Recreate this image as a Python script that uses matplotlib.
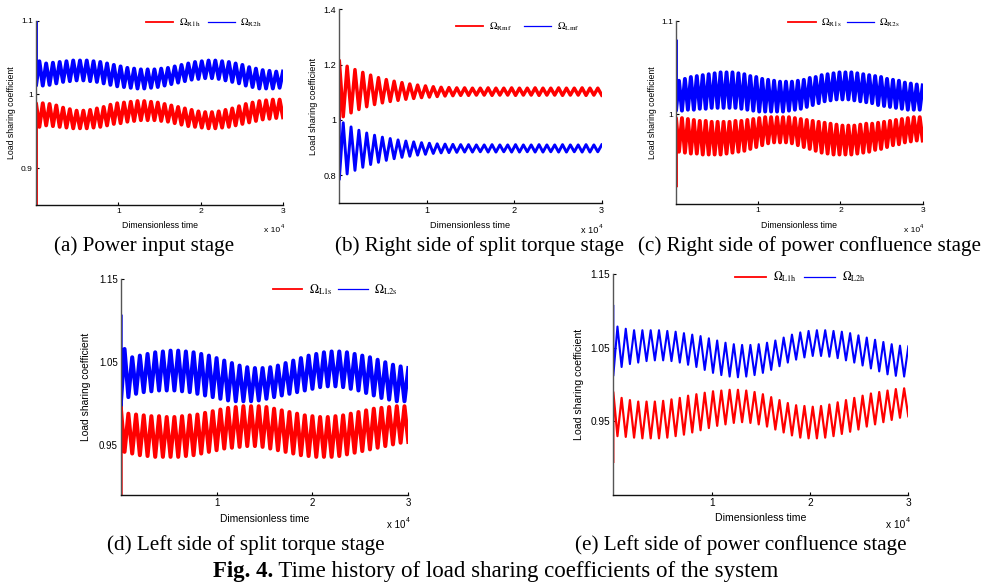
import numpy as np
import matplotlib
matplotlib.use("Agg")
import matplotlib.pyplot as plt
from matplotlib.lines import Line2D

plt.rcParams['mathtext.fontset'] = 'stix'
plt.rcParams['font.family'] = ['Liberation Sans', 'DejaVu Sans']

# ---------------- data (per-cycle peaks / troughs) ----------------
T_END = 3e4

# (a) Power input stage
a_red_init, a_blue_init = 0.85, 1.10
a_red_hi = [0.988,0.988,0.987,0.985,0.982,0.980,0.978,0.978,0.979,0.981,0.983,0.986,0.988,0.989,0.990,0.991,0.991,0.990,0.989,0.987,0.985,0.983,0.981,0.979,0.977,0.976,0.976,0.977,0.979,0.981,0.984,0.987,0.989,0.991,0.992,0.993,0.993]
a_red_lo = [0.956,0.958,0.957,0.956,0.955,0.954,0.954,0.954,0.955,0.956,0.958,0.960,0.961,0.963,0.964,0.965,0.965,0.965,0.964,0.963,0.961,0.959,0.957,0.956,0.955,0.954,0.954,0.955,0.956,0.958,0.960,0.962,0.964,0.966,0.967,0.968,0.969]
a_blue_hi = [1.045,1.042,1.043,1.044,1.045,1.046,1.046,1.046,1.045,1.044,1.042,1.040,1.038,1.036,1.035,1.034,1.034,1.034,1.035,1.036,1.038,1.040,1.042,1.044,1.045,1.046,1.046,1.045,1.044,1.042,1.040,1.037,1.035,1.033,1.032,1.031,1.031]
a_blue_lo = [1.012,1.012,1.013,1.015,1.017,1.018,1.019,1.019,1.018,1.017,1.015,1.013,1.011,1.010,1.009,1.008,1.008,1.009,1.010,1.012,1.014,1.016,1.018,1.020,1.021,1.022,1.022,1.021,1.019,1.017,1.015,1.012,1.010,1.008,1.008,1.008,1.009]

# (b) Right side of split torque stage
b_red_init, b_blue_init = 1.0, 1.0
b_red_hi = [1.215,1.194,1.182,1.172,1.162,1.153,1.146,1.140,1.135,1.130,1.126,1.123,1.120,1.118,1.117,1.116,1.116,1.115,1.115,1.116,1.115,1.115,1.116,1.115,1.115,1.116,1.115,1.115,1.116,1.115,1.115,1.116,1.115,1.115]
b_red_lo = [1.012,1.026,1.038,1.048,1.056,1.062,1.067,1.071,1.075,1.078,1.081,1.083,1.085,1.087,1.088,1.089,1.089,1.090,1.090,1.089,1.090,1.090,1.089,1.090,1.090,1.089,1.090,1.090,1.089,1.090,1.090,1.089,1.090,1.090]
b_blue_lo = [0.785,0.805,0.818,0.829,0.839,0.847,0.854,0.860,0.865,0.869,0.873,0.876,0.879,0.881,0.882,0.883,0.884,0.884,0.885,0.884,0.884,0.885,0.884,0.884,0.885,0.884,0.884,0.885,0.884,0.884,0.885,0.884,0.884,0.885]
b_blue_hi = [0.990,0.975,0.963,0.953,0.945,0.938,0.933,0.928,0.924,0.921,0.918,0.916,0.914,0.913,0.912,0.911,0.911,0.910,0.910,0.911,0.910,0.910,0.911,0.910,0.910,0.911,0.910,0.910,0.911,0.910,0.910,0.911,0.910,0.910]

# (c) Right side of power confluence stage
c_red_init, c_blue_init = 0.924, 1.078
c_red_hi = [0.996,0.996,0.995,0.994,0.993,0.993,0.992,0.992,0.992,0.992,0.993,0.993,0.994,0.995,0.996,0.997,0.997,0.997,0.997,0.997,0.996,0.995,0.994,0.993,0.992,0.991,0.990,0.989,0.988,0.988,0.988,0.989,0.990,0.990,0.991,0.992,0.993,0.994,0.995,0.996,0.997,0.997]
c_red_lo = [0.960,0.959,0.958,0.958,0.957,0.957,0.957,0.957,0.958,0.959,0.960,0.961,0.963,0.965,0.967,0.969,0.970,0.970,0.970,0.969,0.967,0.965,0.963,0.961,0.959,0.958,0.957,0.957,0.957,0.957,0.958,0.959,0.960,0.962,0.963,0.965,0.967,0.968,0.970,0.971,0.972,0.972]
c_blue_hi = [1.036,1.038,1.040,1.041,1.042,1.043,1.044,1.045,1.045,1.045,1.044,1.043,1.041,1.040,1.038,1.037,1.036,1.035,1.035,1.035,1.036,1.037,1.039,1.040,1.042,1.043,1.044,1.045,1.045,1.045,1.044,1.043,1.042,1.041,1.040,1.038,1.037,1.036,1.034,1.033,1.032,1.031]
c_blue_lo = [1.004,1.004,1.005,1.005,1.006,1.006,1.007,1.007,1.007,1.007,1.007,1.006,1.005,1.004,1.003,1.003,1.003,1.003,1.003,1.004,1.005,1.006,1.008,1.010,1.012,1.014,1.015,1.016,1.016,1.016,1.015,1.014,1.013,1.012,1.010,1.009,1.008,1.007,1.006,1.005,1.005,1.005]

# (d) Left side of split torque stage
d_red_init, d_blue_init = 0.89, 1.105
d_red_hi = [0.997,0.988,0.987,0.986,0.985,0.985,0.984,0.984,0.985,0.986,0.987,0.989,0.991,0.993,0.995,0.996,0.997,0.997,0.997,0.996,0.994,0.992,0.990,0.988,0.986,0.985,0.984,0.984,0.985,0.986,0.988,0.990,0.992,0.994,0.995,0.996,0.997,0.997]
d_red_lo = [0.942,0.940,0.938,0.937,0.936,0.936,0.936,0.936,0.937,0.938,0.940,0.942,0.944,0.946,0.947,0.948,0.949,0.949,0.948,0.946,0.944,0.942,0.940,0.938,0.937,0.936,0.936,0.936,0.937,0.939,0.941,0.943,0.945,0.947,0.949,0.951,0.953,0.954]
d_blue_hi = [1.066,1.056,1.058,1.060,1.062,1.063,1.064,1.064,1.063,1.062,1.060,1.058,1.055,1.052,1.049,1.046,1.044,1.043,1.043,1.044,1.046,1.049,1.052,1.055,1.058,1.060,1.062,1.063,1.063,1.062,1.060,1.058,1.056,1.053,1.050,1.047,1.045,1.043]
d_blue_lo = [0.998,1.008,1.012,1.014,1.015,1.016,1.016,1.016,1.015,1.014,1.012,1.010,1.008,1.006,1.004,1.003,1.003,1.003,1.004,1.006,1.008,1.010,1.012,1.014,1.016,1.018,1.020,1.021,1.021,1.020,1.018,1.016,1.013,1.010,1.007,1.005,1.003,1.003]

# (e) Left side of power confluence stage
e_red_init, e_blue_init = 0.895, 1.107
e_red_hi = [0.990,0.982,0.979,0.977,0.977,0.977,0.978,0.980,0.982,0.985,0.987,0.989,0.991,0.992,0.993,0.993,0.992,0.990,0.987,0.983,0.979,0.975,0.972,0.971,0.970,0.971,0.973,0.976,0.979,0.982,0.985,0.988,0.990,0.992,0.994,0.995]
e_red_lo = [0.930,0.929,0.928,0.927,0.927,0.927,0.928,0.930,0.932,0.935,0.938,0.941,0.944,0.946,0.948,0.949,0.948,0.946,0.943,0.939,0.935,0.931,0.928,0.927,0.927,0.928,0.930,0.933,0.936,0.939,0.943,0.946,0.949,0.952,0.955,0.957]
e_blue_hi = [1.079,1.076,1.074,1.074,1.074,1.074,1.073,1.072,1.070,1.068,1.066,1.063,1.060,1.057,1.055,1.054,1.054,1.055,1.057,1.060,1.064,1.068,1.071,1.073,1.074,1.074,1.073,1.072,1.070,1.067,1.064,1.061,1.058,1.055,1.053,1.052]
e_blue_lo = [1.012,1.024,1.028,1.030,1.032,1.033,1.033,1.032,1.030,1.027,1.024,1.020,1.016,1.013,1.011,1.010,1.011,1.013,1.016,1.020,1.025,1.030,1.034,1.037,1.039,1.039,1.038,1.036,1.033,1.030,1.026,1.022,1.018,1.014,1.012,1.011]

x_ticks = [1e4, 2e4, 3e4]
x_ticklabels = ['1', '2', '3']

# ---------------- helpers ----------------
W, H = 989, 587
fig = plt.figure(figsize=(W / 100, H / 100), dpi=100)


def rect(l, t, r, b):
    return [l / W, 1 - b / H, (r - l) / W, (b - t) / H]


def fx(x):
    return x / W


def fy(y):
    return 1 - y / H


def series(init, first, second):
    ext = np.empty(2 * len(first))
    ext[0::2] = first
    ext[1::2] = second
    vals = np.concatenate([[init], ext])
    t = np.concatenate([[0.0], np.linspace(0, T_END, len(ext))])
    return t, vals


panels = [
    dict(rect=(36, 20.7, 283, 205), ylim=(0.85, 1.1), yt=[0.9, 1.0, 1.1], ytl=['0.9', '1', '1.1'],
         red=(a_red_init, a_red_hi, a_red_lo), blue=(a_blue_init, a_blue_lo, a_blue_hi),
         labels=(r'$\Omega_{\mathrm{R1h}}$', r'$\Omega_{\mathrm{R2h}}$'),
         lw=(2.8, 2.8), fs=6.1, lfs=7.5, leg=(262, 22.5), hl=2.6, htp=0.5, cs=0.7,
         ylab_x=11.7, lab_fs=6.3, tick_y=212, xlab_y=225, x10_y=230,
         cap='(a) Power input stage', cap_xy=(144, 246.5)),
    dict(rect=(339.3, 9.3, 601.7, 203), ylim=(0.7, 1.4), yt=[0.8, 1.0, 1.2, 1.4], ytl=['0.8', '1', '1.2', '1.4'],
         red=(b_red_init, b_red_hi, b_red_lo), blue=(b_blue_init, b_blue_lo, b_blue_hi),
         labels=(r'$\Omega_{\mathrm{Rmf}}$', r'$\Omega_{\mathrm{Lmf}}$'),
         lw=(2.5, 2.1), fs=6.6, lfs=7.5, leg=(580, 27), hl=2.6, htp=0.6, cs=1.1,
         ylab_x=313.5, lab_fs=6.6, tick_y=212, xlab_y=225, x10_y=230,
         cap='(b) Right side of split torque stage', cap_xy=(479.5, 246.5)),
    dict(rect=(676, 21, 922.7, 204), ylim=(0.904, 1.1), yt=[1.0, 1.1], ytl=['1', '1.1'],
         red=(c_red_init, c_red_hi, c_red_lo), blue=(c_blue_init, c_blue_lo, c_blue_hi),
         labels=(r'$\Omega_{\mathrm{R1s}}$', r'$\Omega_{\mathrm{R2s}}$'),
         lw=(2.8, 2.8), fs=6.1, lfs=7.5, leg=(900, 23), hl=2.6, htp=0.5, cs=0.5,
         ylab_x=652.5, lab_fs=6.3, tick_y=212.3, xlab_y=225, x10_y=230,
         cap='(c) Right side of power confluence stage', cap_xy=(809, 246.5)),
    dict(rect=(120.7, 279.3, 408.3, 495), ylim=(0.89, 1.15), yt=[0.95, 1.05, 1.15], ytl=['0.95', '1.05', '1.15'],
         red=(d_red_init, d_red_hi, d_red_lo), blue=(d_blue_init, d_blue_lo, d_blue_hi),
         labels=(r'$\Omega_{\mathrm{L1s}}$', r'$\Omega_{\mathrm{L2s}}$'),
         lw=(2.9, 2.9), fs=7.0, lfs=8.8, leg=(398, 290), hl=2.4, htp=0.55, cs=0.45,
         ylab_x=86, lab_fs=7.4, tick_y=505, xlab_y=519.3, x10_y=524.5,
         cap='(d) Left side of split torque stage', cap_xy=(245.5, 545)),
    dict(rect=(613.3, 274.3, 908.3, 495), ylim=(0.85, 1.15), yt=[0.95, 1.05, 1.15], ytl=['0.95', '1.05', '1.15'],
         red=(e_red_init, e_red_hi, e_red_lo), blue=(e_blue_init, e_blue_lo, e_blue_hi),
         labels=(r'$\Omega_{\mathrm{L1h}}$', r'$\Omega_{\mathrm{L2h}}$'),
         lw=(1.6, 1.5), fs=7.3, lfs=8.4, leg=(866, 277), hl=2.6, htp=0.65, cs=0.6,
         ylab_x=578.5, lab_fs=7.6, tick_y=505.7, xlab_y=518, x10_y=524.5,
         cap='(e) Left side of power confluence stage', cap_xy=(740.8, 545)),
]

for p in panels:
    l, t, r, b = p['rect']
    ax = fig.add_axes(rect(l, t, r, b))
    tr, vr = series(*p['red'])
    tb, vb = series(*p['blue'])
    ax.plot(tr, vr, color='#ff0000', lw=p['lw'][0])
    ax.plot(tb, vb, color='#0000ff', lw=p['lw'][1])
    ax.set_xlim(0, T_END)
    ax.set_ylim(*p['ylim'])
    ax.set_xticks(x_ticks)
    ax.set_xticklabels(x_ticklabels)
    ax.set_yticks(p['yt'])
    ax.set_yticklabels(p['ytl'])
    for s in ('top', 'right'):
        ax.spines[s].set_visible(False)
    ax.spines['left'].set_color('#555555')
    ax.spines['left'].set_linewidth(1.0)
    ax.spines['bottom'].set_color('#111111')
    ax.spines['bottom'].set_linewidth(1.0)
    ax.tick_params(direction='in', length=2.2, width=0.8, labelsize=p['fs'], pad=2.2, color='black')
    xc = (l + r) / 2
    fig.text(fx(xc), fy(p['xlab_y']), 'Dimensionless time', ha='center', va='center', fontsize=p['lab_fs'])
    fig.text(fx(p['ylab_x']), fy((t + b) / 2), 'Load sharing coefficient', rotation=90,
             ha='center', va='center', fontsize=p['lab_fs'])
    fig.text(fx(r - 3), fy(p['x10_y']), 'x 10', ha='right', va='center', fontsize=p['fs'])
    fig.text(fx(r - 2.5), fy(p['x10_y'] - 4), '4', ha='left', va='center', fontsize=p['fs'] * 0.7)
    handles = [Line2D([], [], color='#ff0000', lw=1.3), Line2D([], [], color='#0000ff', lw=0.9)]
    lx, ly = p['leg']
    ax.legend(handles, p['labels'], ncol=2, frameon=False, loc='center right',
              bbox_to_anchor=(fx(lx), fy(ly)), bbox_transform=fig.transFigure,
              fontsize=p['lfs'], handlelength=p['hl'], handletextpad=p['htp'],
              columnspacing=p['cs'], borderpad=0, borderaxespad=0)
    fig.text(fx(p['cap_xy'][0]), fy(p['cap_xy'][1]), p['cap'], ha='center', va='center',
             fontsize=15.2, family='Liberation Serif')

# figure caption: bold "Fig. 4." followed by regular text, centred as a whole
renderer = fig.canvas.get_renderer()
cap_fs = 16.5
t1 = fig.text(0, fy(571.5), 'Fig. 4.', ha='left', va='center', fontsize=cap_fs,
              family='Liberation Serif', weight='bold')
t2 = fig.text(0, fy(571.5), ' Time history of load sharing coefficients of the system', ha='left',
              va='center', fontsize=cap_fs, family='Liberation Serif')
w1 = t1.get_window_extent(renderer).width
w2 = t2.get_window_extent(renderer).width
x0 = 496 - (w1 + w2) / 2
t1.set_x(fx(x0))
t2.set_x(fx(x0 + w1))

fig.savefig('out.png', dpi=100)
